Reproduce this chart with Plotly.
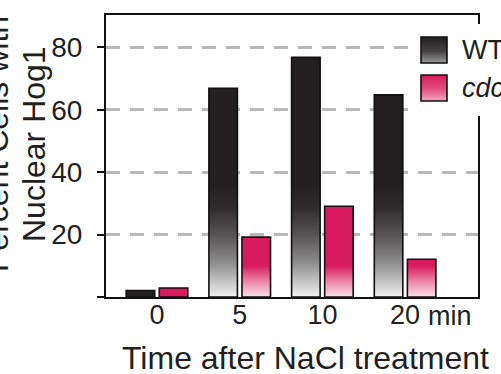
import plotly.graph_objects as go

# ---------------- data ----------------
times = ["0", "5", "10", "20"]
wt_values = [2.1, 66.9, 76.8, 64.8]
cdc_values = [2.9, 19.2, 29.1, 12.1]
series_names = ["WT", "cdc37-34"]
y_tick_vals = [0, 20, 40, 60, 80]
y_tick_text = ["", "20", "40", "60", "80"]

# ---------------- style ----------------
FONT = "Liberation Sans, Arial, sans-serif"
TXT = "#231f20"
WT_TOP = "#231f20"
CDC_TOP = "#d81b5c"
WT_SCALE = [[0, "#f2f2f2"], [0.3, "#8e8e8e"], [0.55, "#575455"], [0.8, "#2f2b2c"], [1, WT_TOP]]
CDC_SCALE = [[0, "#fbe0ea"], [0.5, "#ec86a8"], [1, CDC_TOP]]
WT_GRAD_STOP = 36
CDC_GRAD_STOP = 10
OFFSET = 0.2
HALF_W = 0.1725

W, H = 501, 374
PL, PR, PT, PB = 106, 478, 15, 297


def px_x(p):
    return (p - PL) / (PR - PL)


def px_y(p):
    return (PB - p) / (PB - PT)


fig = go.Figure()


def add_bars(values, off, solid, scale, stop, name):
    for i, v in enumerate(values):
        c = i + off
        xs = [c - HALF_W, c - HALF_W, c + HALF_W, c + HALF_W, c - HALF_W]
        ys = [0, v, v, 0, 0]
        kw = dict(fillcolor=solid)
        if v >= 5:
            kw["fillgradient"] = dict(type="vertical", start=0, stop=stop,
                                      colorscale=scale)
        fig.add_trace(go.Scatter(
            x=xs, y=ys, mode="lines", fill="toself",
            line=dict(color="#111111", width=1.6),
            name=name, showlegend=False, hoverinfo="skip", **kw))


add_bars(wt_values, -OFFSET, WT_TOP, WT_SCALE, WT_GRAD_STOP, series_names[0])
add_bars(cdc_values, OFFSET, CDC_TOP, CDC_SCALE, CDC_GRAD_STOP, series_names[1])

fig.update_layout(
    width=W, height=H,
    margin=dict(l=PL, r=W - PR, t=PT, b=H - PB, autoexpand=False),
    paper_bgcolor="white", plot_bgcolor="white",
    font=dict(family=FONT, color=TXT, size=27),
    showlegend=False,
)

fig.update_xaxes(
    range=[-0.6167, 3.8815],
    tickmode="array", tickvals=list(range(len(times))), ticktext=times,
    ticks="", showgrid=False, zeroline=False,
    showline=True, linecolor="#111111", linewidth=2, mirror=True,
    tickfont=dict(size=27, color=TXT), ticklabelstandoff=-7,
    layer="below traces",
)
fig.update_yaxes(
    range=[0, 90.4],
    tickmode="array", tickvals=y_tick_vals, ticktext=y_tick_text,
    ticks="outside", ticklen=7, tickwidth=2, tickcolor="#111111",
    showgrid=True, gridcolor="#b8b8b8", gridwidth=3, griddash="14px,10px",
    zeroline=False,
    showline=True, linecolor="#111111", linewidth=2, mirror=True,
    tickfont=dict(size=28, color=TXT), ticklabelstandoff=9,
    layer="below traces",
)

annotations = []
# "min" after the last tick label
annotations.append(dict(
    x=len(times) - 1, xref="x", y=px_y(316), yref="paper",
    text="min", showarrow=False, xanchor="left", yanchor="middle",
    xshift=21, font=dict(size=27, color=TXT)))
# x title
annotations.append(dict(
    x=px_x(305), xref="paper", y=px_y(358), yref="paper",
    text="Time after NaCl treatment", showarrow=False,
    xanchor="center", yanchor="middle", font=dict(size=32, color=TXT)))
# y title (two lines)
annotations.append(dict(
    x=0, xref="paper", y=px_y(144), yref="paper", xshift=34 - PL,
    text="Nuclear Hog1", textangle=-90, showarrow=False,
    xanchor="center", yanchor="middle", font=dict(size=32, color=TXT)))
annotations.append(dict(
    x=0, xref="paper", y=px_y(144), yref="paper", xshift=-3 - PL,
    text="Percent Cells with", textangle=-90, showarrow=False,
    xanchor="center", yanchor="middle", font=dict(size=32, color=TXT)))

# ---------------- legend (manual) ----------------
shapes = []
shapes.append(dict(type="rect", xref="paper", yref="paper", layer="above",
                   x0=px_x(411), x1=px_x(510), y0=px_y(116), y1=px_y(24),
                   fillcolor="white", line=dict(width=0)))


def hex2rgb(h):
    h = h.lstrip("#")
    return tuple(int(h[i:i + 2], 16) for i in (0, 2, 4))


def interp(scale, t):
    for (t0, c0), (t1, c1) in zip(scale[:-1], scale[1:]):
        if t <= t1:
            f = 0 if t1 == t0 else (t - t0) / (t1 - t0)
            a, b = hex2rgb(c0), hex2rgb(c1)
            return "rgb(%d,%d,%d)" % tuple(round(a[k] + (b[k] - a[k]) * f) for k in range(3))
    return scale[-1][1]


legend_items = [
    (series_names[0], [[0, "#9a9a9a"], [0.45, "#444142"], [1, WT_TOP]], 37, 63, False),
    (series_names[1], [[0, "#f4a3bf"], [0.5, "#e04a7c"], [1, CDC_TOP]], 75, 101, True),
]
SX0, SX1 = 421, 447
for name, scale, y0, y1, ital in legend_items:
    n = int(y1 - y0)
    for k in range(n):
        t = 1 - (k + 0.5) / n
        shapes.append(dict(type="rect", xref="paper", yref="paper", layer="above",
                           x0=px_x(SX0), x1=px_x(SX1),
                           y0=px_y(y0 + k + 1.15), y1=px_y(y0 + k),
                           fillcolor=interp(scale, t), line=dict(width=0)))
    shapes.append(dict(type="rect", xref="paper", yref="paper", layer="above",
                       x0=px_x(SX0), x1=px_x(SX1), y0=px_y(y1), y1=px_y(y0),
                       fillcolor="rgba(0,0,0,0)", line=dict(color="#111111", width=1.6)))
    annotations.append(dict(
        x=px_x(460), xref="paper", y=px_y((y0 + y1) / 2), yref="paper",
        text=("<i>%s</i>" % name) if ital else name, showarrow=False,
        xanchor="left", yanchor="middle", font=dict(size=27, color=TXT)))

fig.update_layout(shapes=shapes, annotations=annotations)
fig.write_html("out.html")
